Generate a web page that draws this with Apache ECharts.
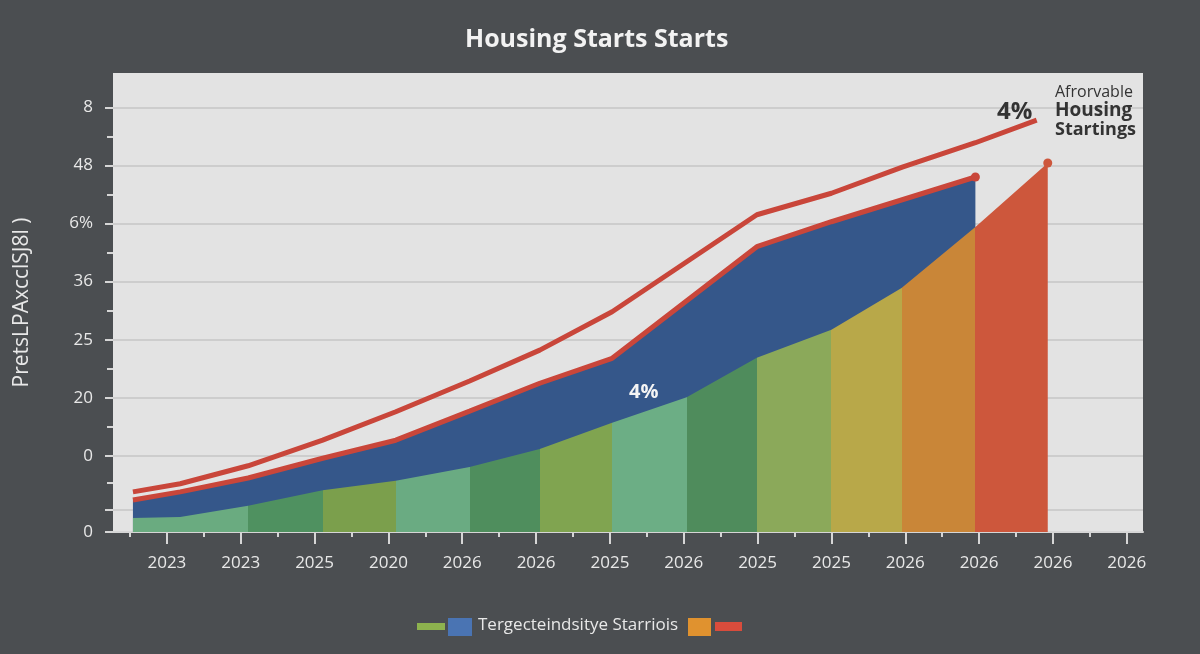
<!DOCTYPE html>
<html>
<head>
<meta charset="utf-8">
<script src="https://cdn.jsdelivr.net/npm/echarts@6/dist/echarts.min.js"></script>
<style>
  html, body { margin: 0; padding: 0; background: #4b4e51; }
  #myChart { width: 1200px; height: 654px; }
</style>
</head>
<body>
<div id="myChart"></div>
<script>
// x ticks sit at 1..14, y ticks at 0 and 1.31 + k
const xLabels = ['2023', '2023', '2025', '2020', '2026', '2026', '2025', '2026', '2025', '2025', '2026', '2026', '2026', '2026']
const xTickValues = [1, 2, 3, 4, 5, 6, 7, 8, 9, 10, 11, 12, 13, 14]
const xMinorValues = [0.5, 1.5, 2.5, 3.5, 4.5, 5.5, 6.5, 7.5, 8.5, 9.5, 10.5, 11.5, 12.5, 13.5]

const yTickLabels = ['0', '0', '20', '25', '36', '6%', '48', '8']
const yTickValues = [0, 1.31, 2.31, 3.31, 4.31, 5.31, 6.31, 7.31]
const yGridValues = [0, 0.38, 1.31, 2.31, 3.31, 4.31, 5.31, 6.31, 7.31]
const yMinorValues = [0.84, 1.81, 2.81, 3.81, 4.81, 5.81, 6.81]

// coloured columns (one area cut into sections)
const colX = [0.54, 1.18, 2.10, 3.11, 4.10, 5.10, 6.05, 7.03, 8.04, 8.99, 10.00, 10.95, 11.95, 12.93]
const colY = [0.24, 0.26, 0.45, 0.72, 0.88, 1.12, 1.43, 1.88, 2.32, 3.00, 3.48, 4.20, 5.25, 6.35]
const colBounds = [2.10, 3.11, 4.10, 5.10, 6.05, 7.03, 8.04, 8.99, 10.00, 10.95, 11.95]
const colColors = ['#6aab80', '#4f9160', '#7b9f4c', '#6aab82', '#4f8e5d', '#80a450',
  '#6cae85', '#4f8c5c', '#8ba95a', '#b8a849', '#c98638', '#cd573c']

// blue band, top edge is the lower red line
const lowX = [0.54, 1.18, 2.10, 3.11, 4.10, 5.10, 6.05, 7.03, 8.99, 10.00, 11.95]
const lowY = [0.55, 0.69, 0.93, 1.27, 1.58, 2.08, 2.56, 2.99, 4.91, 5.34, 6.11]

// upper red line
const highX = [0.54, 1.18, 2.10, 3.11, 4.10, 5.10, 6.05, 7.03, 8.99, 10.00, 10.96, 11.95, 12.78]
const highY = [0.69, 0.83, 1.14, 1.58, 2.07, 2.60, 3.13, 3.79, 5.46, 5.83, 6.28, 6.70, 7.09]

const red = '#c9463a'
const textColor = '#e8e8e8'
const font = 'Open Sans'

const zip = (xs, ys) => xs.map((x, i) => [x, ys[i]])

const pieces = colColors.map((c, i) => ({
  gte: i === 0 ? -100 : colBounds[i - 1],
  lt: i < colBounds.length ? colBounds[i] : 100,
  color: c
}))

const pickLabel = v => {
  const i = yTickValues.findIndex(t => Math.abs(t - v) < 1e-6)
  return i < 0 ? '' : yTickLabels[i]
}

const option = {
  backgroundColor: '#4b4e51',
  animation: false,
  title: {
    text: 'Housing Starts Starts',
    left: 460,
    top: 22,
    textStyle: { color: '#f2f2f2', fontSize: 25, fontWeight: 'bold', fontFamily: font }
  },
  grid: [
    { left: 113, right: 57, top: 73, bottom: 122, show: true, backgroundColor: '#e3e3e3', borderWidth: 0 },
    { left: 113, right: 57, top: 73, bottom: 122, show: false }
  ],
  visualMap: {
    show: false,
    type: 'piecewise',
    dimension: 0,
    seriesIndex: 1,
    pieces: pieces
  },
  xAxis: [
    {
      type: 'value', gridIndex: 0, min: 0.27, max: 14.22,
      axisLine: { show: true, lineStyle: { color: '#d6d6d6', width: 2 } },
      axisTick: { show: true, length: 12, customValues: xTickValues, lineStyle: { color: '#d6d6d6', width: 2 } },
      axisLabel: {
        customValues: xTickValues,
        formatter: v => xLabels[Math.round(v) - 1],
        color: textColor, fontSize: 17, fontFamily: font, margin: 23
      },
      splitLine: { show: false }
    },
    {
      type: 'value', gridIndex: 1, min: 0.27, max: 14.22,
      axisLine: { show: false },
      axisTick: { show: true, length: 5, customValues: xMinorValues, lineStyle: { color: '#d6d6d6', width: 2 } },
      axisLabel: { show: false },
      splitLine: { show: false }
    }
  ],
  yAxis: [
    {
      type: 'value', gridIndex: 0, min: 0, max: 7.9,
      name: 'PretsLPAxcclSJ8l )',
      nameLocation: 'middle',
      nameRotate: 90,
      nameGap: 80,
      nameTextStyle: { color: textColor, fontSize: 21, fontFamily: font },
      axisLine: { show: false },
      axisTick: { show: true, length: 8, customValues: yGridValues, lineStyle: { color: '#d6d6d6', width: 2 } },
      axisLabel: {
        customValues: yTickValues,
        formatter: pickLabel,
        color: textColor, fontSize: 17, fontFamily: font, margin: 20
      },
      splitLine: { show: true, lineStyle: { color: '#c6c6c6', width: 1.5 } }
    },
    {
      type: 'value', gridIndex: 1, min: 0, max: 7.9,
      axisLine: { show: false },
      axisTick: { show: true, length: 6, customValues: yMinorValues, lineStyle: { color: '#d6d6d6', width: 2 } },
      axisLabel: { show: false },
      splitLine: { show: false }
    }
  ],
  series: [
    {
      name: 'band',
      type: 'line',
      data: zip(lowX, lowY),
      lineStyle: { color: red, width: 5 },
      itemStyle: { color: red },
      areaStyle: { color: '#35578a', opacity: 1 },
      symbol: 'circle',
      symbolSize: (v, p) => (p.dataIndex === lowX.length - 1 ? 9 : 0),
      z: 2
    },
    {
      name: 'columns',
      type: 'line',
      data: zip(colX, colY),
      lineStyle: { width: 0 },
      areaStyle: { opacity: 1 },
      symbol: 'circle',
      symbolSize: (v, p) => (p.dataIndex === colX.length - 1 ? 9 : 0),
      z: 3
    },
    {
      name: 'upper',
      type: 'line',
      data: zip(highX, highY),
      lineStyle: { color: red, width: 5 },
      itemStyle: { color: red },
      symbol: 'none',
      z: 4
    }
  ],
  graphic: [
    { type: 'text', left: 629, top: 382, style: { text: '4%', fill: '#f4f4f4', font: 'bold 20px "Open Sans"' }, z: 10 },
    { type: 'text', left: 997, top: 100, style: { text: '4%', fill: '#333333', font: 'bold 24px "Open Sans"' }, z: 10 },
    { type: 'text', left: 1055, top: 84, style: { text: 'Afrorvable', fill: '#333333', font: '16px "Open Sans"' }, z: 10 },
    { type: 'text', left: 1055, top: 101, style: { text: 'Housing', fill: '#333333', font: 'bold 19px "Open Sans"' }, z: 10 },
    { type: 'text', left: 1055, top: 121, style: { text: 'Startings', fill: '#333333', font: 'bold 18px "Open Sans"' }, z: 10 },
    // legend
    { type: 'rect', left: 417, top: 623, shape: { width: 28, height: 7 }, style: { fill: '#8db24e' } },
    { type: 'rect', left: 448, top: 618, shape: { width: 24, height: 18 }, style: { fill: '#4a74b3' } },
    { type: 'text', left: 478, top: 617, style: { text: 'Tergecteindsitye Starriois', fill: textColor, font: '17px "Open Sans"' } },
    { type: 'rect', left: 688, top: 618, shape: { width: 23, height: 18 }, style: { fill: '#e0922f' } },
    { type: 'rect', left: 715, top: 622, shape: { width: 27, height: 9 }, style: { fill: '#d84c3c' } }
  ]
}

const myChart = echarts.init(document.getElementById('myChart'))
myChart.setOption(option)
</script>
</body>
</html>
